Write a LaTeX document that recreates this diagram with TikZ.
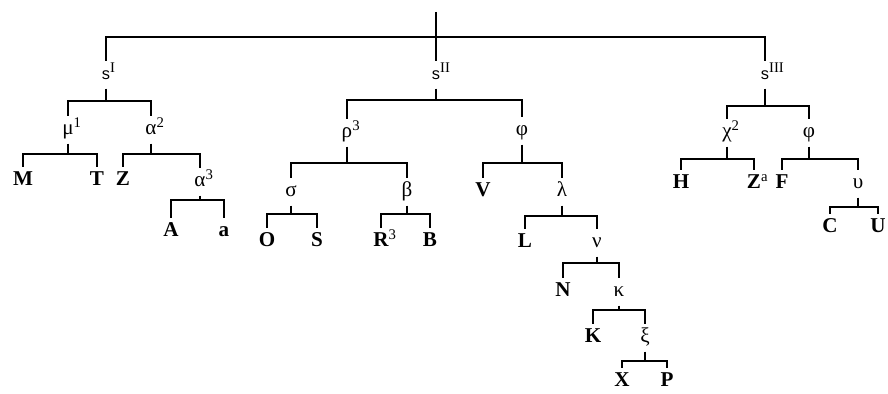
\documentclass[tikz,border=0pt]{standalone}
\usepackage{fontspec}
\setmainfont{Liberation Serif}
\setsansfont{Liberation Sans}
\newcommand{\schrift}{\fontsize{18}{21}\selectfont}
\newcommand{\klein}{\sffamily\fontsize{14}{16}\selectfont}
\newcommand{\hoch}[1]{\rlap{\textsuperscript{#1}}}
\newcommand{\gabel}[4]{%
  \draw (#1.south) -- (#1.south |- 0,#4) -| (#2.north);
  \draw (#1.south |- 0,#4) -| (#3.north);}

\begin{document}
\begin{tikzpicture}[x=0.03cm, y=-0.03cm, line width=0.9pt,
  knoten/.style={inner xsep=0pt, inner ysep=3pt, text height=12pt,
    text depth=4.5pt, font=\schrift},
  blatt/.style={knoten, font=\schrift\bfseries}]

\useasboundingbox (0,0) rectangle (888,394);

% ====================================================================
%
%         Knoten
%
% ====================================================================

  % Wurzel
  \coordinate (top) at (436,12);
  \node[knoten] (sI)   at (106,75) {{\klein s}\hoch{I}};
  \node[knoten] (sII)  at (436,75) {{\klein s}\hoch{II}};
  \node[knoten] (sIII) at (765,75) {{\klein s}\hoch{III}};

  % Ast links
  \node[knoten] (mu)       at (68,130)  {μ\hoch{1}};
  \node[knoten] (alphaII)  at (151,130) {α\hoch{2}};
  \node[blatt]  (M)        at (23,181)  {M};
  \node[blatt]  (T)        at (97,181)  {T};
  \node[blatt]  (Z)        at (123,181) {Z};
  \node[knoten] (alphaIII) at (200,182) {α\hoch{3}};
  \node[blatt]  (A)        at (171,232) {A};
  \node[blatt]  (a)        at (224,232) {a};

  % Ast mitte
  \node[knoten] (rho)    at (347,133) {ρ\hoch{3}};
  \node[knoten] (phiII)  at (522,131) {φ};
  \node[knoten] (sigma)  at (291,192) {σ};
  \node[knoten] (beta)   at (407,192) {β};
  \node[blatt]  (V)      at (483,192) {V};
  \node[knoten] (lambda) at (562,192) {λ};
  \node[blatt]  (O)      at (267,242) {O};
  \node[blatt]  (S)      at (317,242) {S};
  \node[blatt]  (R)      at (381,242) {R\hoch{\mdseries 3}};
  \node[blatt]  (B)      at (430,242) {B};
  \node[blatt]  (L)      at (525,243) {L};
  \node[knoten] (nu)     at (597,243) {ν};
  \node[blatt]  (N)      at (563,292) {N};
  \node[knoten] (kappa)  at (619,292) {κ};
  \node[blatt]  (K)      at (593,338) {K};
  \node[knoten] (xi)     at (645,338) {ξ};
  \node[blatt]  (X)      at (622,382) {X};
  \node[blatt]  (P)      at (667,382) {P};

  % Ast rechts
  \node[knoten] (chi)    at (727,133) {χ\hoch{2}};
  \node[knoten] (phiIII) at (809,133) {φ};
  \node[blatt]  (H)      at (681,184) {H};
  \node[blatt]  (Za)     at (754,184) {Z\hoch{\mdseries a}};
  \node[blatt]  (F)      at (782,184) {F};
  \node[knoten] (ups)    at (858,184) {υ};
  \node[blatt]  (C)      at (830,228) {C};
  \node[blatt]  (U)      at (878,228) {U};

% ====================================================================
%
%         Linien
%
% ====================================================================

  % Wurzel
  \draw (top) -- (top |- 0,37) -| (sI.north);
  \draw (top |- 0,37) -| (sIII.north);
  \draw (top |- 0,37) -- (sII.north);

  % Ast links
  \gabel{sI}{mu}{alphaII}{101}
  \gabel{mu}{M}{T}{154}
  \gabel{alphaII}{Z}{alphaIII}{154}
  \gabel{alphaIII}{A}{a}{200}

  % Ast mitte
  \gabel{sII}{rho}{phiII}{100}
  \gabel{rho}{sigma}{beta}{163}
  \gabel{phiII}{V}{lambda}{163}
  \gabel{sigma}{O}{S}{214}
  \gabel{beta}{R}{B}{214}
  \gabel{lambda}{L}{nu}{216}
  \gabel{nu}{N}{kappa}{263}
  \gabel{kappa}{K}{xi}{310}
  \gabel{xi}{X}{P}{361}

  % Ast rechts
  \gabel{sIII}{chi}{phiIII}{106}
  \gabel{chi}{H}{Za}{159}
  \gabel{phiIII}{F}{ups}{159}
  \gabel{ups}{C}{U}{207}

\end{tikzpicture}
\end{document}
